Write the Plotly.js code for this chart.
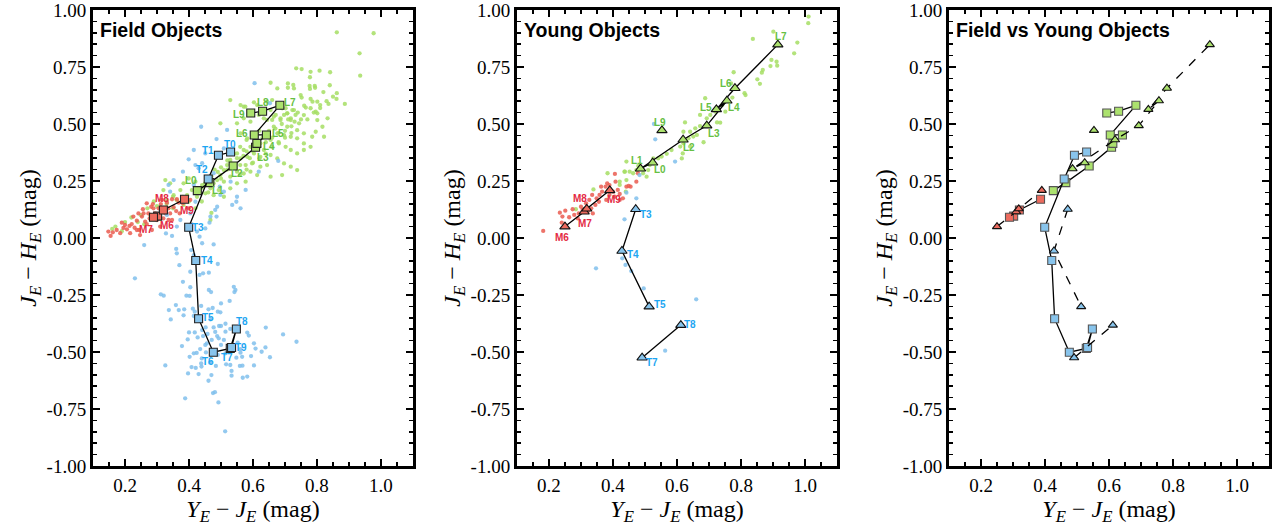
<!DOCTYPE html>
<html><head><meta charset="utf-8">
<script src="https://cdn.plot.ly/plotly-3.0.1.min.js"></script>
<style>html,body{margin:0;padding:0;background:#fff;}#chart{width:1281px;height:527px;}</style>
</head><body><div id="chart"></div>
<script>
// ---------------- DATA ----------------
// Field sequences (squares)
const fieldM_types = ['M6','M7','M8','M9'];
const fieldM_x = [0.302,0.289,0.320,0.386];
const fieldM_y = [0.096,0.091,0.123,0.170];
const fieldL_types = ['L0','L1','L2','L3','L4','L5','L6','L7','L8','L9'];
const fieldL_x = [0.426,0.465,0.538,0.608,0.612,0.642,0.604,0.684,0.630,0.593];
const fieldL_y = [0.208,0.243,0.316,0.398,0.415,0.452,0.452,0.582,0.556,0.548];
const fieldT_types = ['T0','T1','T2','T3','T4','T5','T6','T7','T8','T9'];
const fieldT_x = [0.530,0.492,0.460,0.399,0.421,0.430,0.476,0.529,0.548,0.533];
const fieldT_y = [0.377,0.363,0.259,0.047,-0.099,-0.354,-0.501,-0.484,-0.399,-0.480];

// Young sequences (triangles); null = no young object of that type
const youngM_types = ['M6','M7','M8','M9'];
const youngM_x = [0.250,0.310,0.318,0.390];
const youngM_y = [0.050,0.115,0.128,0.209];
const youngL_types = ['L0','L1','L2','L3','L4','L5','L6','L7','L8','L9'];
const youngL_x = [0.524,0.486,0.619,0.693,0.756,0.723,0.781,0.915,null,0.553];
const youngL_y = [0.330,0.304,0.431,0.493,0.602,0.564,0.657,0.848,null,0.472];
const youngT_types = ['T3','T4','T5','T6','T7','T8'];
const youngT_x = [0.471,0.428,0.513,null,0.491,0.612];
const youngT_y = [0.126,-0.057,-0.301,null,-0.525,-0.382];

// Field individual objects
const fieldRed_x = [0.148,0.155,0.162,0.190,0.195,0.206,0.214,0.221,0.230,0.237,0.244,0.247,0.253,0.258,0.263,0.268,0.256,0.273,0.277,0.282,0.287,0.294,0.305,0.312,0.326,0.336,0.341,0.352,0.360,0.368,0.371,0.381,0.362,0.331,0.315,0.347,0.300,0.284,0.216,0.174,0.185,0.226,0.242,0.310,0.399,0.404,0.347,0.320,0.289,0.268,0.237,0.200,0.336];
const fieldRed_y = [0.028,0.009,0.025,0.067,0.044,0.038,0.053,0.061,0.045,0.076,0.035,0.013,0.094,0.108,0.072,0.061,0.126,0.108,0.086,0.137,0.149,0.108,0.130,0.149,0.108,0.130,0.108,0.135,0.118,0.155,0.108,0.152,0.170,0.155,0.167,0.170,0.079,0.035,0.021,0.035,0.021,0.094,0.108,0.050,0.130,0.167,0.079,0.086,0.130,0.152,0.035,0.057,0.079];

const fieldGreen_x = [0.862,0.977,0.933,0.935,0.735,0.752,0.780,0.808,0.841,0.778,0.655,0.676,0.709,0.726,0.709,0.728,0.777,0.793,0.778,0.794,0.749,0.752,0.862,0.861,0.786,0.801,0.810,0.836,0.887,0.765,0.796,0.801,0.723,0.529,0.561,0.576,0.603,0.644,0.660,0.702,0.707,0.671,0.697,0.686,0.660,0.718,0.733,0.644,0.592,0.571,0.550,0.498,0.618,
 0.571,0.613,0.655,0.691,0.707,0.728,0.759,0.780,0.801,0.817,0.833,0.744,0.718,0.686,0.665,0.634,0.707,0.738,0.759,0.785,0.665,0.644,0.676,0.697,0.718,0.738,0.759,0.796,0.822,0.561,0.582,0.623,0.655,0.681,0.702,0.718,0.738,0.759,0.780,0.592,0.571,0.550,0.561,0.582,0.603,0.623,0.634,0.655,0.676,0.697,0.718,0.738,0.623,0.644,0.597,0.577,0.529,0.519,0.540,0.509,0.550,0.571,0.592,0.613,0.655,0.691,0.529,0.498,0.488,0.477,0.509,0.550,0.577,0.529,0.493,0.467,0.451,0.477,0.509,0.441,0.420,0.399,0.383,0.409,0.425,0.394,0.373,0.352,0.331,0.362,0.383,0.320,0.341,0.326,
 0.170,0.200,0.220,0.250,0.270,0.280,0.300,0.310,0.330,0.350,0.380,0.400,0.420,0.440,0.460,0.350,0.290,0.240,0.190,0.160,0.260,0.467,0.470,
 0.450,0.470,0.490,0.500,0.520,0.530,0.540,0.550,0.560,0.570,0.580,0.590,0.600,0.610,0.620,0.630,0.640,0.650,0.660,0.670,0.680,0.690,0.700,0.710,0.720,0.730,0.740,0.750,0.620,0.600,0.580,0.560,0.540,0.520,0.500,0.480,0.460,0.440,0.430,0.660,0.680,0.700,0.720,0.640,0.620,0.600,0.580,0.560,0.770,0.790,0.760,0.780,0.810,0.830,0.850,0.820,0.840];
const fieldGreen_y = [0.902,0.898,0.810,0.712,0.744,0.741,0.729,0.734,0.727,0.705,0.681,0.656,0.678,0.671,0.659,0.656,0.667,0.667,0.654,0.659,0.627,0.616,0.635,0.610,0.598,0.598,0.583,0.588,0.588,0.572,0.554,0.547,0.561,0.605,0.583,0.576,0.595,0.598,0.605,0.569,0.547,0.540,0.540,0.525,0.518,0.525,0.540,0.518,0.510,0.525,0.503,0.503,0.540,
 0.576,0.583,0.561,0.569,0.547,0.561,0.539,0.569,0.517,0.488,0.525,0.503,0.517,0.517,0.532,0.525,0.488,0.473,0.459,0.444,0.488,0.459,0.459,0.451,0.444,0.437,0.415,0.466,0.444,0.459,0.437,0.415,0.430,0.415,0.400,0.386,0.371,0.386,0.400,0.400,0.386,0.371,0.349,0.356,0.371,0.356,0.386,0.364,0.349,0.327,0.313,0.298,0.313,0.320,0.327,0.320,0.342,0.320,0.313,0.298,0.291,0.283,0.291,0.276,0.269,0.276,0.269,0.276,0.254,0.240,0.247,0.240,0.247,0.218,0.210,0.218,0.196,0.188,0.181,0.232,0.247,0.261,0.240,0.210,0.181,0.188,0.210,0.188,0.166,0.166,0.145,0.210,0.240,0.254,
 0.050,0.070,0.090,0.100,0.130,0.100,0.140,0.090,0.150,0.130,0.180,0.160,0.130,0.160,0.200,0.180,0.160,0.070,0.030,0.040,0.060,0.079,0.110,
 0.240,0.270,0.290,0.260,0.300,0.330,0.310,0.350,0.320,0.360,0.380,0.350,0.380,0.420,0.400,0.440,0.420,0.470,0.440,0.480,0.460,0.500,0.470,0.520,0.490,0.510,0.550,0.520,0.470,0.450,0.430,0.400,0.370,0.340,0.310,0.300,0.260,0.220,0.200,0.400,0.420,0.440,0.460,0.370,0.350,0.330,0.300,0.280,0.520,0.550,0.580,0.610,0.570,0.600,0.620,0.640,0.670];

const fieldBlue_x = [0.328,0.347,0.433,0.441,0.477,0.260,0.360,0.362,0.407,0.415,0.370,0.490,0.404,0.444,0.462,0.433,0.231,0.381,0.404,0.462,0.469,0.540,0.545,0.542,0.312,0.321,0.392,0.402,0.527,0.500,0.359,0.438,0.337,0.368,0.385,0.412,0.418,0.461,0.474,0.490,0.498,0.343,0.383,0.415,0.467,0.514,0.494,0.500,0.529,0.452,0.477,0.400,0.418,0.441,0.458,0.482,0.488,0.514,0.582,0.587,0.640,0.694,0.736,0.396,0.427,0.444,0.471,0.493,0.509,0.456,0.378,0.435,0.451,0.500,0.552,0.603,0.561,0.608,0.639,0.627,0.415,0.424,0.453,0.402,0.440,0.490,0.514,0.548,0.561,0.566,0.594,0.653,0.326,0.408,0.421,0.439,0.438,0.466,0.484,0.516,0.529,0.559,0.567,0.603,0.397,0.430,0.470,0.533,0.533,0.568,0.582,0.461,0.475,0.481,0.388,0.492,0.513,
 0.438,0.519,0.486,0.415,0.399,0.451,0.509,0.441,0.420,0.430,0.381,0.477,0.352,0.336,0.415,0.341,0.496,0.509,0.530,0.679,0.618,0.577,0.550,0.548,0.535,0.498,0.561,0.488,0.482,0.467,0.486,0.464,0.404,0.383,0.420,0.331,0.373,0.451,0.425,0.362,0.605,0.653];
const fieldBlue_y = [0.020,0.009,0.006,-0.023,-0.028,-0.031,-0.048,-0.067,-0.053,-0.075,-0.119,-0.114,-0.148,-0.155,-0.152,-0.162,-0.177,-0.192,-0.216,-0.228,-0.237,-0.214,-0.228,-0.237,-0.247,-0.253,-0.253,-0.254,-0.276,-0.287,-0.294,-0.298,-0.316,-0.316,-0.313,-0.310,-0.323,-0.313,-0.307,-0.323,-0.326,-0.357,-0.339,-0.342,-0.357,-0.376,-0.386,-0.386,-0.399,-0.392,-0.392,-0.414,-0.414,-0.404,-0.421,-0.412,-0.430,-0.411,-0.415,-0.428,-0.393,-0.423,-0.455,-0.445,-0.436,-0.430,-0.447,-0.440,-0.447,-0.462,-0.474,-0.487,-0.469,-0.469,-0.459,-0.462,-0.487,-0.485,-0.480,-0.499,-0.506,-0.504,-0.502,-0.521,-0.528,-0.513,-0.506,-0.525,-0.503,-0.521,-0.518,-0.523,-0.559,-0.566,-0.570,-0.564,-0.550,-0.547,-0.561,-0.554,-0.557,-0.561,-0.560,-0.559,-0.594,-0.597,-0.601,-0.583,-0.604,-0.613,-0.608,-0.626,-0.680,-0.676,-0.703,-0.721,-0.848,
 0.488,0.474,0.434,0.386,0.345,0.371,0.393,0.328,0.320,0.306,0.291,0.284,0.254,0.233,0.233,0.203,0.225,0.203,0.247,0.338,0.291,0.211,0.181,0.159,0.145,0.189,0.130,0.137,0.123,0.094,0.094,0.067,0.108,0.159,0.159,0.101,0.079,0.042,0.028,0.050,0.679,0.591];

// Young individual objects
const youngRed_x = [0.182,0.234,0.251,0.242,0.240,0.263,0.274,0.293,0.300,0.316,0.326,0.332,0.337,0.345,0.349,0.358,0.356,0.366,0.377,0.382,0.389,0.406,0.408,0.389,0.405,0.415,0.421,0.431,0.442,0.449,0.455,0.473,0.478,0.279,0.290,0.305,0.321,0.335,0.363,0.379,0.400,0.421];
const youngRed_y = [0.031,0.111,0.120,0.094,0.067,0.091,0.126,0.108,0.137,0.152,0.167,0.130,0.108,0.145,0.174,0.189,0.159,0.203,0.225,0.240,0.232,0.281,0.247,0.189,0.181,0.211,0.193,0.174,0.225,0.228,0.225,0.247,0.284,0.101,0.086,0.123,0.116,0.189,0.225,0.167,0.203,0.167];
const youngGreen_x = [1.011,1.010,0.901,0.837,0.976,0.966,0.895,0.911,0.892,0.913,0.868,0.865,0.851,0.859,0.777,0.769,0.811,0.814,0.773,0.756,0.748,0.741,0.730,0.751,0.720,0.688,0.672,0.693,0.704,0.735,0.725,0.625,0.672,0.657,0.641,0.620,0.662,0.651,0.636,0.683,0.641,0.620,0.610,0.618,0.615,0.583,0.568,0.552,0.541,0.526,0.515,0.510,0.494,0.505,0.479,0.473,0.442,0.437,0.452,0.463,0.421,0.383,0.436,0.442,0.440,0.339,0.284,0.421];
const youngGreen_y = [0.971,0.942,0.905,0.873,0.857,0.810,0.781,0.773,0.754,0.756,0.737,0.725,0.696,0.676,0.727,0.678,0.635,0.627,0.616,0.605,0.595,0.583,0.561,0.554,0.554,0.613,0.540,0.525,0.540,0.506,0.507,0.507,0.491,0.481,0.466,0.466,0.452,0.445,0.437,0.420,0.401,0.415,0.401,0.371,0.349,0.386,0.369,0.357,0.349,0.349,0.320,0.298,0.284,0.269,0.316,0.298,0.335,0.291,0.291,0.284,0.247,0.284,0.291,0.254,0.203,0.213,0.126,0.233];
const youngBlue_x = [0.528,0.532,0.594,0.483,0.442,0.473,0.436,0.347,0.429,0.439,0.457,0.496,0.660,0.563];
const youngBlue_y = [0.500,0.433,0.335,0.276,0.199,0.174,0.082,-0.133,-0.089,-0.118,-0.145,-0.221,-0.269,-0.494];

// Tick labels & titles
const xTickVals = [0.2,0.4,0.6,0.8,1.0];
const xTickText = ['0.2','0.4','0.6','0.8','1.0'];
const yTickVals = [-1,-0.75,-0.5,-0.25,0,0.25,0.5,0.75,1];
const yTickText = ['-1.00','-0.75','-0.50','-0.25','0.00','0.25','0.50','0.75','1.00'];
const panelTitles = ['Field Objects','Young Objects','Field vs Young Objects'];
const xTitle = '<i>Y<sub>E</sub></i> \u2212 <i>J<sub>E</sub></i> (mag)';
const yTitle = '<i>J<sub>E</sub></i> \u2212 <i>H<sub>E</sub></i> (mag)';

// ---------------- STYLE ----------------
const C = {
  mDot:'rgba(234,92,80,0.85)', lDot:'rgba(166,222,100,0.85)', tDot:'rgba(128,192,236,0.85)',
  mFill:'#ec6b5e', lFill:'#ace26e', tFill:'#88c4ec',
  mText:'#e42a45', lText:'#66c043', tText:'#1ea6f2'
};
// label pixel offsets [dx, dy(up positive)]
const offField = {M6:[9,-9],M7:[-7,-12],M8:[-1,11],M9:[2,-11],
  L0:[-6,10],L1:[8,-8],L2:[4,-8],L3:[7,-10],L4:[12,-3],L5:[12,1],L6:[-12,1],L7:[10,3],L8:[0,9],L9:[-12,-1],
  T0:[-1,8],T1:[-10,5],T2:[-6,9],T3:[9,0],T4:[11,0],T5:[9,1],T6:[-5,-9],T7:[-3,-9],T8:[6,7],T9:[9,0]};
const offYoung = {M6:[-3,-11],M7:[1,-12],M8:[-7,10],M9:[4,-9],
  L0:[7,-7],L1:[-4,8],L2:[6,-8],L3:[7,-8],L4:[7,-7],L5:[-10,2],L6:[-9,5],L7:[3,8],L9:[-2,8],
  T3:[10,-5],T4:[11,-3],T5:[11,2],T7:[10,-5],T8:[9,1]};

const traces = [];
function dots(x,y,color,xa,ya){
  traces.push({type:'scatter',mode:'markers',x:x,y:y,xaxis:xa,yaxis:ya,hoverinfo:'skip',
    marker:{size:4.3,color:color,line:{width:0}},showlegend:false});
}
function seq(x,y,fill,symbol,size,dash,edge,xa,ya){
  traces.push({type:'scatter',mode:'lines+markers',x:x,y:y,xaxis:xa,yaxis:ya,connectgaps:false,
    line:{color:'black',width:1.3,dash:dash},
    marker:{symbol:symbol,size:size,color:fill,line:{color:edge,width:1.1}},showlegend:false});
}
// Panel 1
dots(fieldGreen_x,fieldGreen_y,C.lDot,'x','y');
dots(fieldRed_x,fieldRed_y,C.mDot,'x','y');
dots(fieldBlue_x,fieldBlue_y,C.tDot,'x','y');
seq(fieldM_x,fieldM_y,C.mFill,'square',8,'solid','#222','x','y');
seq(fieldL_x,fieldL_y,C.lFill,'square',8,'solid','#222','x','y');
seq(fieldT_x,fieldT_y,C.tFill,'square',8,'solid','#222','x','y');
// Panel 2
dots(youngGreen_x,youngGreen_y,C.lDot,'x2','y2');
dots(youngRed_x,youngRed_y,C.mDot,'x2','y2');
dots(youngBlue_x,youngBlue_y,C.tDot,'x2','y2');
seq(youngM_x,youngM_y,C.mFill,'triangle-up',9,'solid','#111','x2','y2');
seq(youngL_x,youngL_y,C.lFill,'triangle-up',9,'solid','#111','x2','y2');
seq(youngT_x,youngT_y,C.tFill,'triangle-up',9,'solid','#111','x2','y2');
// Panel 3
seq(fieldM_x,fieldM_y,C.mFill,'square',8,'solid','#555','x3','y3');
seq(fieldL_x,fieldL_y,C.lFill,'square',8,'solid','#555','x3','y3');
seq(fieldT_x,fieldT_y,C.tFill,'square',8,'solid','#555','x3','y3');
seq(youngM_x,youngM_y,C.mFill,'triangle-up',8,'dash','#111','x3','y3');
seq(youngL_x,youngL_y,C.lFill,'triangle-up',8,'dash','#111','x3','y3');
seq(youngT_x,youngT_y,C.tFill,'triangle-up',8,'dash','#111','x3','y3');

const sansFam = '"Liberation Sans", Arial, Helvetica, sans-serif';
const serifFam = '"Liberation Serif", "DejaVu Serif", "Times New Roman", serif';
const annotations = [];
function labels(types,x,y,color,offs,xa,ya){
  types.forEach((t,i)=>{
    if(x[i]===null) return;
    const o = offs[t]||[8,0];
    annotations.push({x:x[i],y:y[i],xref:xa,yref:ya,text:'<b>'+t+'</b>',showarrow:false,
      xshift:o[0],yshift:o[1],font:{family:sansFam,size:10,color:color}});
  });
}
labels(fieldM_types,fieldM_x,fieldM_y,C.mText,offField,'x','y');
labels(fieldL_types,fieldL_x,fieldL_y,C.lText,offField,'x','y');
labels(fieldT_types,fieldT_x,fieldT_y,C.tText,offField,'x','y');
labels(youngM_types,youngM_x,youngM_y,C.mText,offYoung,'x2','y2');
labels(youngL_types,youngL_x,youngL_y,C.lText,offYoung,'x2','y2');
labels(youngT_types,youngT_x,youngT_y,C.tText,offYoung,'x2','y2');
['x','x2','x3'].forEach((xa,i)=>{
  const ya = xa.replace('x','y');
  annotations.push({xref:xa+' domain',yref:ya+' domain',x:0.015,y:0.985,xanchor:'left',yanchor:'top',
    text:'<b>'+panelTitles[i]+'</b>',showarrow:false,
    font:{family:sansFam,size:19.5,color:'black'}});
});

const tickFont = {family:serifFam,size:19,color:'black'};
const titleFont = {family:serifFam,size:24,color:'black'};
function xax(domain,anchor){
  return {domain:domain,anchor:anchor,range:[0.1,1.1],tickmode:'array',tickvals:xTickVals,ticktext:xTickText,
    ticks:'inside',ticklen:7,tickwidth:2,tickcolor:'black',showline:true,linewidth:3,linecolor:'black',
    mirror:'allticks',showgrid:false,zeroline:false,tickfont:tickFont,ticklabeloverflow:'allow',
    minor:{ticks:'inside',ticklen:4,tickwidth:1.5,tickcolor:'black',dtick:0.05,tick0:0,showgrid:false},
    title:{text:xTitle,font:titleFont,standoff:6}};
}
function yax(anchor){
  return {domain:[0,1],anchor:anchor,range:[-1,1],tickmode:'array',tickvals:yTickVals,ticktext:yTickText,
    ticks:'inside',ticklen:7,tickwidth:2,tickcolor:'black',showline:true,linewidth:3,linecolor:'black',
    mirror:'allticks',showgrid:false,zeroline:false,tickfont:tickFont,ticklabeloverflow:'allow',
    minor:{ticks:'inside',ticklen:4,tickwidth:1.5,tickcolor:'black',dtick:0.05,tick0:0,showgrid:false},
    title:{text:yTitle,font:titleFont,standoff:4}};
}
const layout = {
  width:1281,height:527,margin:{l:93,r:12,t:10,b:61},paper_bgcolor:'white',plot_bgcolor:'white',
  showlegend:false,
  xaxis:xax([0,0.2721],'y'), yaxis:yax('x'),
  xaxis2:xax([0.3605,0.6327],'y2'), yaxis2:yax('x2'),
  xaxis3:xax([0.7279,1.0],'y3'), yaxis3:yax('x3'),
  annotations:annotations
};
Plotly.newPlot('chart',traces,layout,{staticPlot:true,displayModeBar:false});
</script></body></html>
